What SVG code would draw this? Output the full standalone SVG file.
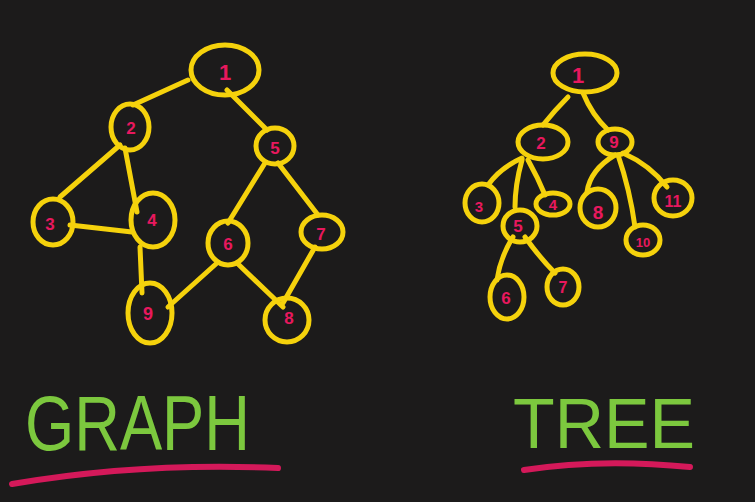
<svg xmlns="http://www.w3.org/2000/svg" width="755" height="502" viewBox="0 0 755 502">
<style>
.n{fill:none;stroke:#f5d20c;stroke-width:5}
.e{fill:none;stroke:#f5d20c;stroke-width:5;stroke-linecap:round}
.l{fill:#e8185e;font-family:"Liberation Sans",sans-serif;font-weight:bold;text-anchor:middle;dominant-baseline:central}
.t{fill:#7cc83e;font-family:"Liberation Sans",sans-serif}
.u{fill:none;stroke:#d4195a;stroke-width:6;stroke-linecap:round}
</style>
<rect width="755" height="502" fill="#1c1b1b"/>
<g id="graph-connectors">
<path class="e" d="M188,80 L133,105"/>
<path class="e" d="M227,90 L267,130"/>
<path class="e" d="M120,145 L60,197"/>
<path class="e" d="M125,148 L137,212"/>
<path class="e" d="M70,225 L132,232"/>
<path class="e" d="M140,247 L142,293"/>
<path class="e" d="M265,163 L228,223"/>
<path class="e" d="M278,163 L318,215"/>
<path class="e" d="M217,263 L168,307"/>
<path class="e" d="M237,263 L283,307"/>
<path class="e" d="M315,247 L283,303"/>
</g>
<g id="g1"><ellipse class="n" cx="225" cy="70" rx="34" ry="25"/><text class="l" x="225" y="72" font-size="22">1</text></g>
<g id="g2"><ellipse class="n" cx="130" cy="127" rx="19" ry="23"/><text class="l" x="131" y="128" font-size="17">2</text></g>
<g id="g5"><ellipse class="n" cx="275" cy="146" rx="19" ry="18"/><text class="l" x="275" y="148" font-size="17">5</text></g>
<g id="g3"><ellipse class="n" cx="53" cy="222" rx="20" ry="23"/><text class="l" x="50" y="224" font-size="17">3</text></g>
<g id="g4"><ellipse class="n" cx="153" cy="220" rx="22" ry="27"/><text class="l" x="152" y="220" font-size="17">4</text></g>
<g id="g6"><ellipse class="n" cx="228" cy="243" rx="20" ry="22"/><text class="l" x="228" y="244" font-size="17">6</text></g>
<g id="g7"><ellipse class="n" cx="322" cy="232" rx="21" ry="17"/><text class="l" x="321" y="234" font-size="17">7</text></g>
<g id="g9"><ellipse class="n" cx="150" cy="313" rx="22" ry="30"/><text class="l" x="148" y="314" font-size="18">9</text></g>
<g id="g8"><ellipse class="n" cx="287" cy="320" rx="22" ry="22"/><text class="l" x="289" y="318" font-size="17">8</text></g>
<g id="tree-connectors">
<path class="e" d="M568,97 Q555,110 543,125"/>
<path class="e" d="M583,93 Q592,115 608,130"/>
<path class="e" d="M522,158 Q500,168 488,185"/>
<path class="e" d="M522,160 Q515,185 515,207"/>
<path class="e" d="M528,160 Q538,178 545,195"/>
<path class="e" d="M513,237 Q500,258 497,280"/>
<path class="e" d="M525,237 Q540,258 555,273"/>
<path class="e" d="M615,155 Q590,170 587,192"/>
<path class="e" d="M618,155 Q630,190 635,227"/>
<path class="e" d="M623,153 Q650,165 667,187"/>
</g>
<g id="t1"><ellipse class="n" cx="585" cy="73" rx="32" ry="19"/><text class="l" x="578" y="75" font-size="22">1</text></g>
<g id="t2"><ellipse class="n" cx="543" cy="142" rx="25" ry="17"/><text class="l" x="541" y="143" font-size="17">2</text></g>
<g id="t9"><ellipse class="n" cx="615" cy="142" rx="17" ry="13"/><text class="l" x="614" y="142" font-size="17">9</text></g>
<g id="t3"><ellipse class="n" cx="482" cy="203" rx="17" ry="19"/><text class="l" x="479" y="206" font-size="15">3</text></g>
<g id="t4"><ellipse class="n" cx="553" cy="204" rx="17" ry="11"/><text class="l" x="553" y="204" font-size="15">4</text></g>
<g id="t5"><ellipse class="n" cx="520" cy="226" rx="17" ry="16"/><text class="l" x="518" y="226" font-size="17">5</text></g>
<g id="t8"><ellipse class="n" cx="598" cy="208" rx="18" ry="19"/><text class="l" x="598" y="212" font-size="19">8</text></g>
<g id="t11"><ellipse class="n" cx="673" cy="198" rx="19" ry="18"/><text class="l" x="673" y="201" font-size="16">11</text></g>
<g id="t10"><ellipse class="n" cx="643" cy="240" rx="17" ry="15"/><text class="l" x="643" y="242" font-size="13">10</text></g>
<g id="t6"><ellipse class="n" cx="507" cy="297" rx="17" ry="22"/><text class="l" x="506" y="298" font-size="17">6</text></g>
<g id="t7"><ellipse class="n" cx="563" cy="287" rx="16" ry="18"/><text class="l" x="563" y="287" font-size="16">7</text></g>
<text class="t" x="25" y="450" font-size="78" textLength="225" lengthAdjust="spacingAndGlyphs">GRAPH</text>
<path class="u" d="M12,484 Q140,462 278,468"/>
<text class="t" x="513" y="448" font-size="70" textLength="182" lengthAdjust="spacingAndGlyphs">TREE</text>
<path class="u" d="M524,470 Q600,458 690,467"/>
</svg>
